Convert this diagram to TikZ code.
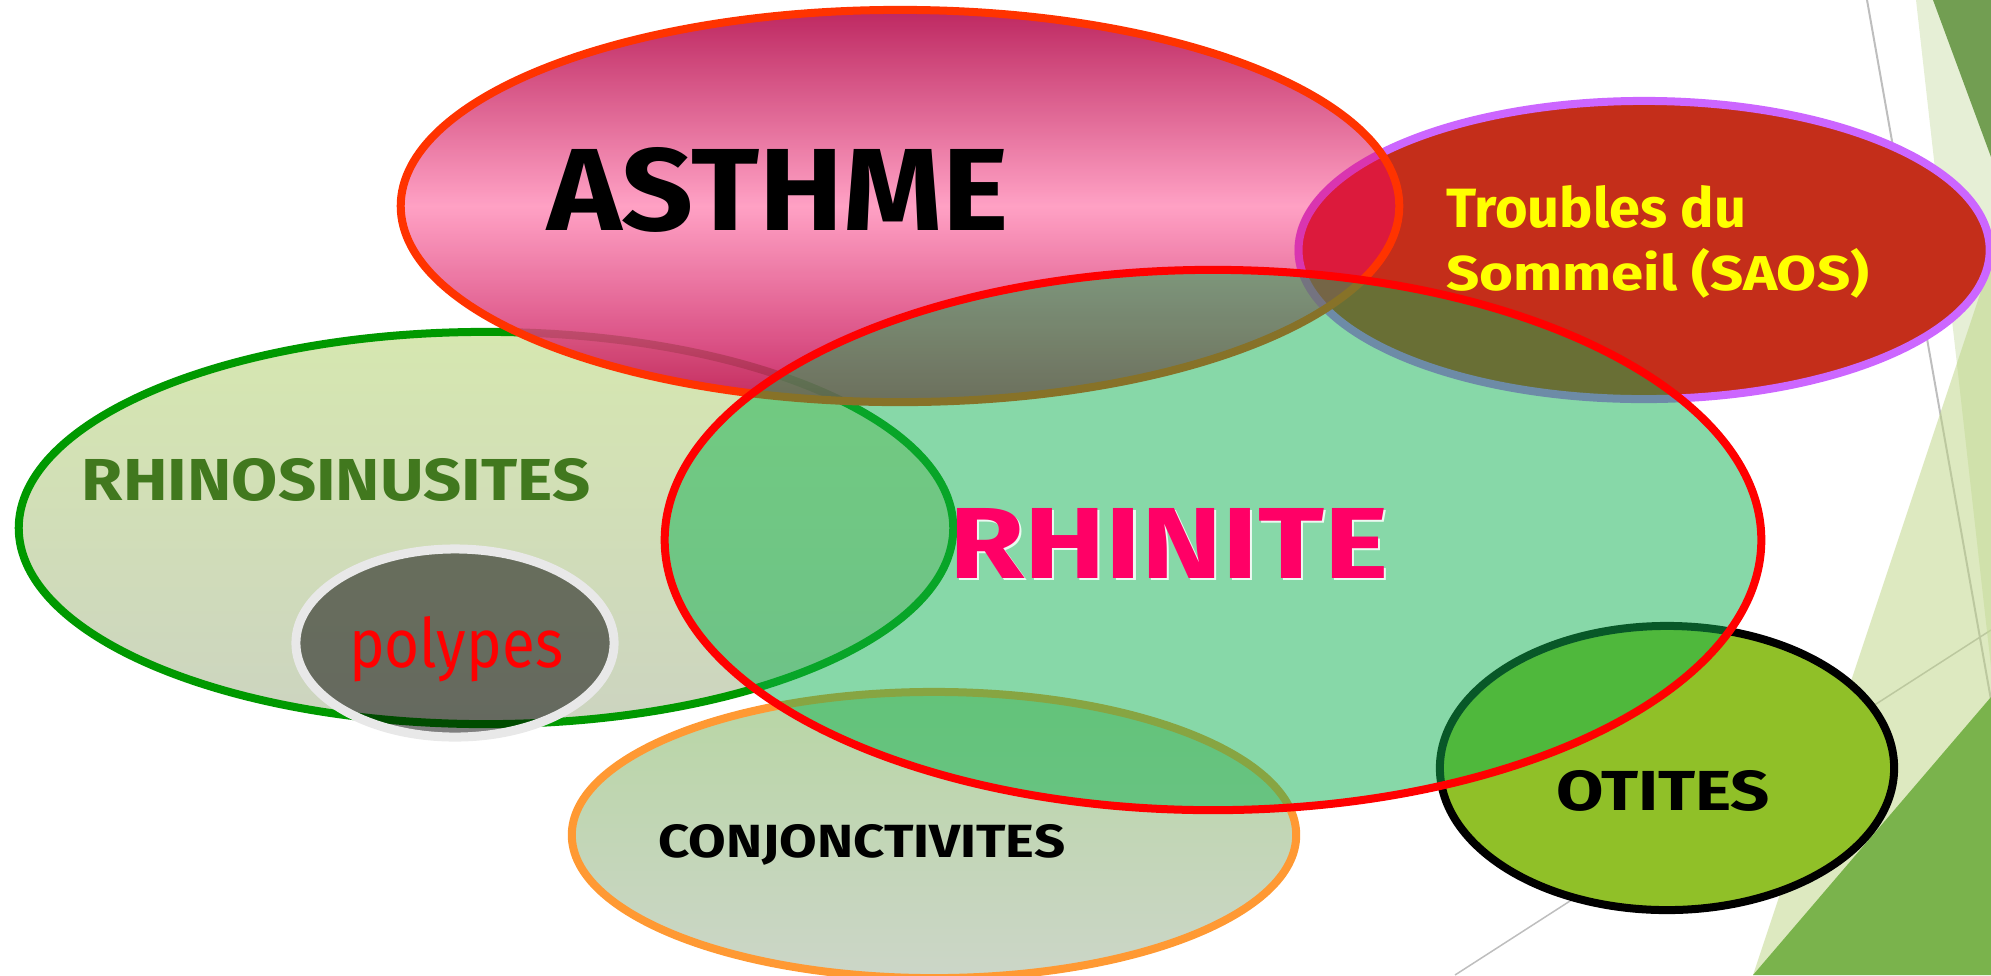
\documentclass[tikz,border=0pt]{standalone}
\usepackage{fontspec}
\setmainfont{Fira Sans}
\usetikzlibrary{shapes.geometric}
\definecolor{asthmeTop}{RGB}{180,10,75}
\definecolor{asthmeMid}{RGB}{255,148,188}
\definecolor{asthmeBot}{RGB}{195,18,85}
\definecolor{asthmeLine}{RGB}{255,51,0}
\definecolor{saosFill}{RGB}{196,46,26}
\definecolor{saosLine}{RGB}{204,102,255}
\definecolor{saosUnder}{RGB}{220,26,60}
\definecolor{saosLineUnder}{RGB}{217,53,176}
\definecolor{rhiniteFill}{RGB}{16,177,81}
\definecolor{rhiniteLine}{RGB}{255,0,0}
\definecolor{rhiniteText}{RGB}{255,0,102}
\definecolor{rsTop}{RGB}{214,231,176}
\definecolor{rsBot}{RGB}{204,212,192}
\definecolor{rsLine}{RGB}{0,153,0}
\definecolor{rsText}{RGB}{65,120,30}
\definecolor{polyLine}{RGB}{232,232,232}
\definecolor{conjTop}{RGB}{184,214,164}
\definecolor{conjBot}{RGB}{204,214,200}
\definecolor{conjLine}{RGB}{255,153,51}
\definecolor{otiFill}{RGB}{144,192,40}
\definecolor{decoStrip}{RGB}{205,223,173}
\definecolor{decoLight}{RGB}{187,211,129}
\definecolor{decoDark}{RGB}{114,158,82}
\definecolor{decoMid}{RGB}{122,179,76}
\definecolor{decoGray}{RGB}{190,190,190}
\definecolor{satYellow}{RGB}{255,255,0}
\begin{document}
\begin{tikzpicture}[x=0.01cm,y=-0.01cm,
  blob/.style={ellipse, inner sep=0pt, outer sep=0pt, line width=0.08cm},
  lbl/.style={inner sep=0pt, outer sep=0pt, anchor=base west},
  decoline/.style={draw=decoGray, line width=0.02cm}]
\useasboundingbox (0,0) rectangle (1991,975);
% background decoration
\draw[decoline] (1867,0) -- (1991,700);
\draw[decoline, line width=0.015cm] (1455,975) -- (1991,630);
\fill[decoStrip, fill opacity=0.5] (1916,0) -- (1991,0) -- (1991,667) -- cycle;
\fill[decoLight, fill opacity=0.5] (1991,261) -- (1753,975) -- (1991,975) -- cycle;
\fill[decoDark] (1933,0) -- (1991,0) -- (1991,157) -- cycle;
\fill[decoMid] (1753,975) -- (1991,697) -- (1991,975) -- cycle;
% ellipses
\node[blob, draw=rsLine, top color=rsTop, bottom color=rsBot, minimum width=9.34cm, minimum height=3.92cm] (rs) at (486,528) {};
\node[blob, draw=polyLine, line width=0.09cm, fill=black, fill opacity=0.5, minimum width=3.18cm, minimum height=1.88cm] (poly) at (455,643) {};
\node[blob, draw=conjLine, top color=conjTop, bottom color=conjBot, minimum width=7.24cm, minimum height=2.86cm] (conj) at (934,835) {};
\node[blob, draw=black, fill=otiFill, minimum width=4.54cm, minimum height=2.84cm] (oti) at (1667,768) {};
\node[blob, draw=saosLine, fill=saosFill, minimum width=6.91cm, minimum height=2.98cm] (saos) at (1644,250) {};
\node[blob, top color=asthmeTop, bottom color=asthmeBot, middle color=asthmeMid, fill opacity=0.88, minimum width=9.98cm, minimum height=3.92cm] (asthme) at (900,206) {};
\begin{scope}
  \clip (1644,250) ellipse [x radius=345.5, y radius=149];
  \fill[saosUnder] (900,206) ellipse [x radius=499, y radius=196];
\end{scope}
\begin{scope}
  \clip (900,206) ellipse [x radius=499, y radius=196];
  \draw[saosLineUnder, line width=0.08cm] (1644,250) ellipse [x radius=345.5, y radius=149];
\end{scope}
\node[blob, draw=asthmeLine, minimum width=9.98cm, minimum height=3.92cm] (asthmeRim) at (900,206) {};
\node[blob, draw=rhiniteLine, fill=rhiniteFill, fill opacity=0.5, minimum width=10.96cm, minimum height=5.40cm] (rhinite) at (1213,540) {};
% labels
\node[lbl] (tAsthme) at (547,230) {\resizebox{4.61cm}{0.83cm}{\bfseries ASTHME}};
\node[lbl, white, opacity=0.85] (tRhiniteGlow) at (951.5,580.5) {\resizebox{4.39cm}{0.70cm}{\bfseries RHINITE}};
\node[lbl, rhiniteText] (tRhinite) at (949,578) {\resizebox{4.39cm}{0.70cm}{\bfseries RHINITE}};
\node[lbl, rsText] (tRs) at (82,500) {\resizebox{5.08cm}{0.42cm}{\bfseries RHINOSINUSITES}};
\node[lbl, red] (tPoly) at (349,667) {\resizebox{2.14cm}{0.51cm}{polypes}};
\node[lbl] (tConj) at (658,857) {\resizebox{4.07cm}{0.33cm}{\bfseries CONJONCTIVITES}};
\node[lbl] (tOti) at (1556,810) {\resizebox{2.14cm}{0.40cm}{\bfseries OTITES}};
\node[lbl, satYellow] (tSaos1) at (1446,227) {\resizebox{3.00cm}{0.42cm}{\bfseries Troubles du}};
\node[lbl, satYellow] (tSaos2) at (1446,290) {\resizebox{4.23cm}{0.42cm}{\bfseries Sommeil (SAOS)}};
\end{tikzpicture}
\end{document}
